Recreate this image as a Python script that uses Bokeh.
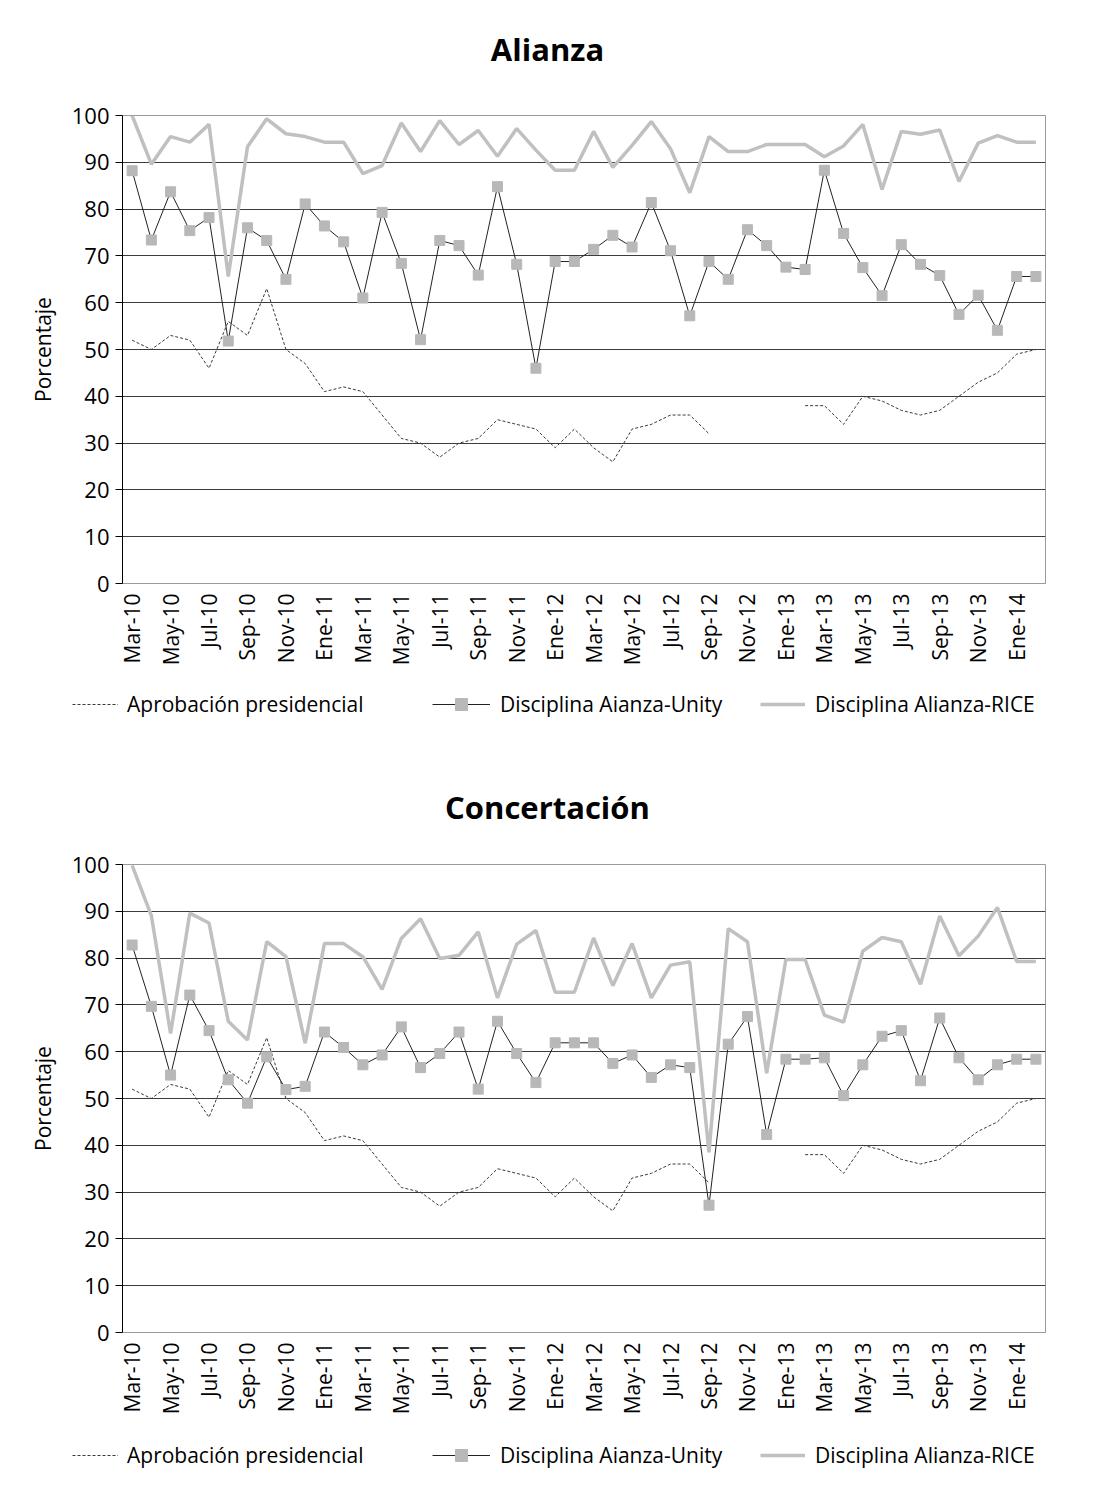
import math
from bokeh.plotting import figure
from bokeh.models import (Range1d, FixedTicker, Legend, LegendItem, Label, ColumnDataSource)
from bokeh.embed import file_html
from bokeh.resources import INLINE

nan = float("nan")

months = ["Mar-10", "Abr-10", "May-10", "Jun-10", "Jul-10", "Ago-10", "Sep-10", "Oct-10",
          "Nov-10", "Dic-10", "Ene-11", "Feb-11", "Mar-11", "Abr-11", "May-11", "Jun-11",
          "Jul-11", "Ago-11", "Sep-11", "Oct-11", "Nov-11", "Dic-11", "Ene-12", "Feb-12",
          "Mar-12", "Abr-12", "May-12", "Jun-12", "Jul-12", "Ago-12", "Sep-12", "Oct-12",
          "Nov-12", "Dic-12", "Ene-13", "Feb-13", "Mar-13", "Abr-13", "May-13", "Jun-13",
          "Jul-13", "Ago-13", "Sep-13", "Oct-13", "Nov-13", "Dic-13", "Ene-14", "Feb-14"]

aprobacion = [52, 50, 53, 52, 46, 56, 53, 63, 50, 47, 41, 42,
              41, 36, 31, 30, 27, 30, 31, 35, 34, 33, 29, 33,
              29, 26, 33, 34, 36, 36, 32, nan, nan, nan, nan, 38,
              38, 34, 40, 39, 37, 36, 37, 40, 43, 45, 49, 50]

alianza_unity = [88.2, 73.4, 83.7, 75.4, 78.2, 51.8, 76.0, 73.3, 65.0, 81.1, 76.4, 73.0,
                 61.0, 79.3, 68.4, 52.1, 73.3, 72.2, 65.9, 84.8, 68.2, 46.0, 68.8, 68.8,
                 71.4, 74.4, 71.9, 81.4, 71.1, 57.2, 68.8, 65.0, 75.6, 72.2, 67.6, 67.1,
                 88.3, 74.8, 67.5, 61.5, 72.4, 68.2, 65.8, 57.5, 61.6, 54.1, 65.6, 65.6]

alianza_rice = [100, 89.6, 95.5, 94.3, 98.1, 65.6, 93.3, 99.3, 96.1, 95.5, 94.3, 94.3,
                87.6, 89.3, 98.4, 92.3, 98.9, 93.8, 96.8, 91.3, 97.2, 92.6, 88.3, 88.3,
                96.6, 88.9, 93.6, 98.7, 92.9, 83.5, 95.5, 92.3, 92.3, 93.8, 93.8, 93.8,
                91.2, 93.5, 98.1, 84.2, 96.6, 96.0, 96.9, 85.9, 94.1, 95.7, 94.3, 94.3]

concert_unity = [82.8, 69.7, 55.0, 72.1, 64.5, 54.0, 49.0, 58.9, 51.9, 52.6, 64.2, 60.9,
                 57.2, 59.3, 65.3, 56.6, 59.6, 64.2, 52.0, 66.5, 59.6, 53.4, 61.9, 61.9,
                 61.9, 57.5, 59.3, 54.5, 57.2, 56.6, 27.2, 61.6, 67.5, 42.3, 58.4, 58.4,
                 58.7, 50.6, 57.2, 63.3, 64.5, 53.8, 67.2, 58.7, 54.0, 57.2, 58.4, 58.4]

concert_rice = [99.8, 89.1, 63.9, 89.6, 87.5, 66.5, 62.5, 83.5, 80.3, 61.8, 83.1, 83.1,
                80.3, 73.3, 84.2, 88.4, 79.9, 80.6, 85.6, 71.5, 83.0, 85.9, 72.7, 72.7,
                84.3, 74.1, 83.1, 71.5, 78.5, 79.2, 38.5, 86.3, 83.5, 55.4, 79.7, 79.7,
                67.8, 66.3, 81.5, 84.4, 83.5, 74.4, 89.0, 80.5, 84.7, 90.8, 79.3, 79.3]

y_ticks = list(range(0, 101, 10))
titles = ["Alianza", "Concertación"]
labels = ["Aprobación presidencial", "Disciplina Aianza-Unity", "Disciplina Alianza-RICE"]

FONT = "Open Sans"
W = 1097

STYLE_AP = dict(line_color="#3a3a3a", line_width=1, line_dash="3 2")
STYLE_UL = dict(line_color="#222222", line_width=1)
STYLE_US = dict(marker="square", size=10, fill_color="#b8b8b8", line_color="#b8b8b8")
STYLE_RICE = dict(line_color="#c0c0c0", line_width=3.5)


def make_chart(unity, rice):
    x = list(range(len(months)))
    src = ColumnDataSource(dict(x=x, ap=aprobacion, unity=unity, rice=rice))
    p = figure(frame_width=923, frame_height=468,
               min_border_left=122, min_border_right=52,
               min_border_top=14, min_border_bottom=90,
               x_range=Range1d(-0.5, len(months) - 0.5), y_range=Range1d(0, 100),
               output_backend="svg", toolbar_location=None)
    p.outline_line_color = "#9a9a9a"
    p.background_fill_color = "white"
    p.border_fill_color = "white"

    p.line("x", "rice", source=src, **STYLE_RICE)
    p.line("x", "ap", source=src, **STYLE_AP)
    p.line("x", "unity", source=src, **STYLE_UL)
    p.scatter("x", "unity", source=src, **STYLE_US)

    p.xgrid.visible = False
    p.ygrid.grid_line_color = "#3c3c3c"
    p.ygrid.grid_line_width = 1
    p.yaxis.ticker = FixedTicker(ticks=y_ticks)
    p.yaxis.axis_label = "Porcentaje"
    p.yaxis.axis_label_text_font = FONT
    p.yaxis.axis_label_text_font_size = "21px"
    p.yaxis.axis_label_text_font_style = "normal"
    p.yaxis.axis_label_text_color = "black"
    p.yaxis.axis_label_standoff = 12
    p.yaxis.major_label_text_font = FONT
    p.yaxis.major_label_text_font_size = "22px"
    p.yaxis.major_label_text_color = "black"
    p.yaxis.major_label_standoff = 6
    p.yaxis.major_tick_out = 7
    p.yaxis.major_tick_in = 0
    p.yaxis.minor_tick_out = 0
    p.yaxis.minor_tick_in = 0
    p.yaxis.axis_line_color = "black"
    p.yaxis.major_tick_line_color = "black"

    even = list(range(0, len(months), 2))
    p.xaxis.ticker = FixedTicker(ticks=even)
    p.xaxis.major_label_overrides = {i: months[i] for i in even}
    p.xaxis.major_label_orientation = math.pi / 2
    p.xaxis.major_label_text_font = FONT
    p.xaxis.major_label_text_font_size = "21px"
    p.xaxis.major_label_text_color = "black"
    p.xaxis.major_label_standoff = 10
    p.xaxis.major_tick_out = 0
    p.xaxis.major_tick_in = 0
    p.xaxis.minor_tick_out = 0
    p.xaxis.minor_tick_in = 0
    p.xaxis.axis_line_color = "#9a9a9a"
    return p, src


def make_strip(height, src=None, legend_vy=None, title=None, title_baseline=None):
    q = figure(width=W, height=height, x_range=Range1d(0, W), y_range=Range1d(0, height),
               min_border=0, x_axis_type=None, y_axis_type=None,
               output_backend="svg", toolbar_location=None)
    q.outline_line_color = None
    q.grid.visible = False
    q.background_fill_color = "white"
    q.border_fill_color = "white"
    if src is not None:
        # hidden copies of the series, used only for the legend samples
        r_ap = q.line("x", "ap", source=src, visible=False, **STYLE_AP)
        r_ul = q.line("x", "unity", source=src, visible=False, **STYLE_UL)
        r_us = q.scatter("x", "unity", source=src, visible=False, **STYLE_US)
        r_rice = q.line("x", "rice", source=src, visible=False, **STYLE_RICE)
        specs = [
            (labels[0], [r_ap], 72, 46, 9),
            (labels[1], [r_ul, r_us], 432, 58, 10),
            (labels[2], [r_rice], 760, 45, 10),
        ]
        for lab, rends, vx, gw, ls in specs:
            leg = Legend(items=[LegendItem(label=lab, renderers=rends)],
                         location=(vx, legend_vy), orientation="horizontal",
                         glyph_width=gw, glyph_height=30, label_height=30,
                         label_standoff=ls, padding=0, margin=0, spacing=0,
                         border_line_color=None, background_fill_alpha=0,
                         inactive_fill_alpha=0, click_policy="none",
                         label_text_font=FONT, label_text_font_size="21px",
                         label_text_color="black")
            q.add_layout(leg)
    if title is not None:
        q.add_layout(Label(x=547, y=height - title_baseline, text=title,
                           text_align="center", text_baseline="alphabetic",
                           text_font=FONT, text_font_size="31px",
                           text_font_style="bold", text_color="black"))
    return q


p1, src1 = make_chart(alianza_unity, alianza_rice)
p2, src2 = make_chart(concert_unity, concert_rice)

s0 = make_strip(101, title=titles[0], title_baseline=48)
s1 = make_strip(177, src=src1, legend_vy=131, title=titles[1], title_baseline=133)
s2 = make_strip(60, src=src2, legend_vy=12)

open("out.html", "w").write(file_html([s0, p1, s1, p2, s2], INLINE))
